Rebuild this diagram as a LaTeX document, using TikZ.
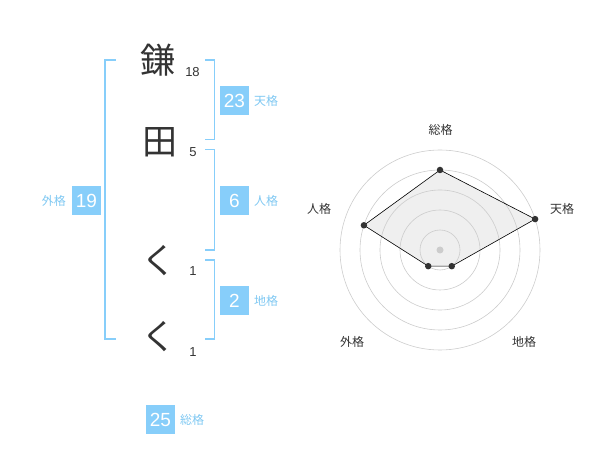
\documentclass[tikz,border=0pt]{standalone}
\usepackage{fontspec}
\setmainfont{Liberation Sans}
\newfontfamily\jp{Noto Sans CJK JP}
\definecolor{sky}{HTML}{87CEFA}
\definecolor{skytext}{HTML}{7FC8F2}
\definecolor{ink}{HTML}{333333}
\definecolor{ring}{HTML}{CCCCCC}
\definecolor{area}{HTML}{EFEFEF}
\begin{document}
\begin{tikzpicture}[x=1pt,y=-1pt,
  kanji/.style={font=\jp\fontsize{35}{35}\selectfont, text=ink, inner sep=0},
  strokes/.style={font=\fontsize{13}{13}\selectfont, text=ink, inner sep=0},
  numbox/.style={fill=sky, text=white, minimum width=29pt, minimum height=29pt, inner sep=0, font=\fontsize{19}{19}\selectfont},
  kaku/.style={font=\jp\fontsize{12}{12}\selectfont, text=skytext, inner sep=0},
  brk/.style={draw=sky, line width=1.6pt},
  axlabel/.style={font=\jp\fontsize{12}{12}\selectfont, text=ink, inner sep=0},
  rings/.style={draw=ring, line width=0.6pt},
  pt/.style={circle, fill=ink, inner sep=0, minimum size=6.5pt}]
\useasboundingbox (0,0) rectangle (600,470);
% name characters
\node[kanji] (k1) at (158,60) {鎌};
\node[kanji] (k2) at (160,142) {田};
\node[kanji] (k3) at (159,261) {く};
\node[kanji] (k4) at (159,337) {く};
\node[strokes] (s1) at (192.5,72.5) {18};
\node[strokes] (s2) at (193,152) {5};
\node[strokes] (s3) at (193,271) {1};
\node[strokes] (s4) at (193,352) {1};
% brackets
\draw[brk] (115.5,60) -- (105,60) -- (105,339) -- (115.5,339);
\draw[brk] (205,60) -- (214.5,60) -- (214.5,139.5) -- (205,139.5);
\draw[brk] (205,149.5) -- (214.5,149.5) -- (214.5,250) -- (205,250);
\draw[brk] (205,260) -- (214.5,260) -- (214.5,339) -- (205,339);
% fortune boxes
\node[numbox] (ten) at (234.5,100.5) {23};
\node[kaku, anchor=west] (tenl) at (254,101) {天格};
\node[numbox] (jin) at (234.5,200.5) {6};
\node[kaku, anchor=west] (jinl) at (254,201) {人格};
\node[numbox] (chi) at (234.5,300.5) {2};
\node[kaku, anchor=west] (chil) at (254,301) {地格};
\node[numbox] (gai) at (86.5,200.5) {19};
\node[kaku, anchor=east] (gail) at (66,201) {外格};
\node[numbox] (sou) at (160.5,419.5) {25};
\node[kaku, anchor=west] (soul) at (180,420) {総格};
% radar chart
\coordinate (c) at (440,250);
\path (c) ++(90:-80) coordinate (p1);
\path (c) ++(-18:100) coordinate (p2);
\path (c) ++(54:20) coordinate (p3);
\path (c) ++(126:20) coordinate (p4);
\path (c) ++(198:80) coordinate (p5);
\fill[area] (p1) -- (p2) -- (p3) -- (p4) -- (p5) -- cycle;
\foreach \r in {20,40,60,80,100} \draw[rings] (c) circle[radius=\r];
\draw[draw=black, line width=0.6pt] (p1) -- (p2) -- (p3) -- (p4) -- (p5) -- cycle;
\foreach \i in {1,...,5} \node[pt] (d\i) at (p\i) {};
\node[circle, fill=ring, inner sep=0, minimum size=7pt] (cd) at (c) {};
\node[axlabel] (a1) at (440.5,130) {総格};
\node[axlabel] (a2) at (562,209) {天格};
\node[axlabel] (a3) at (524,342) {地格};
\node[axlabel] (a4) at (352,342) {外格};
\node[axlabel] (a5) at (319,209) {人格};
\end{tikzpicture}
\end{document}
